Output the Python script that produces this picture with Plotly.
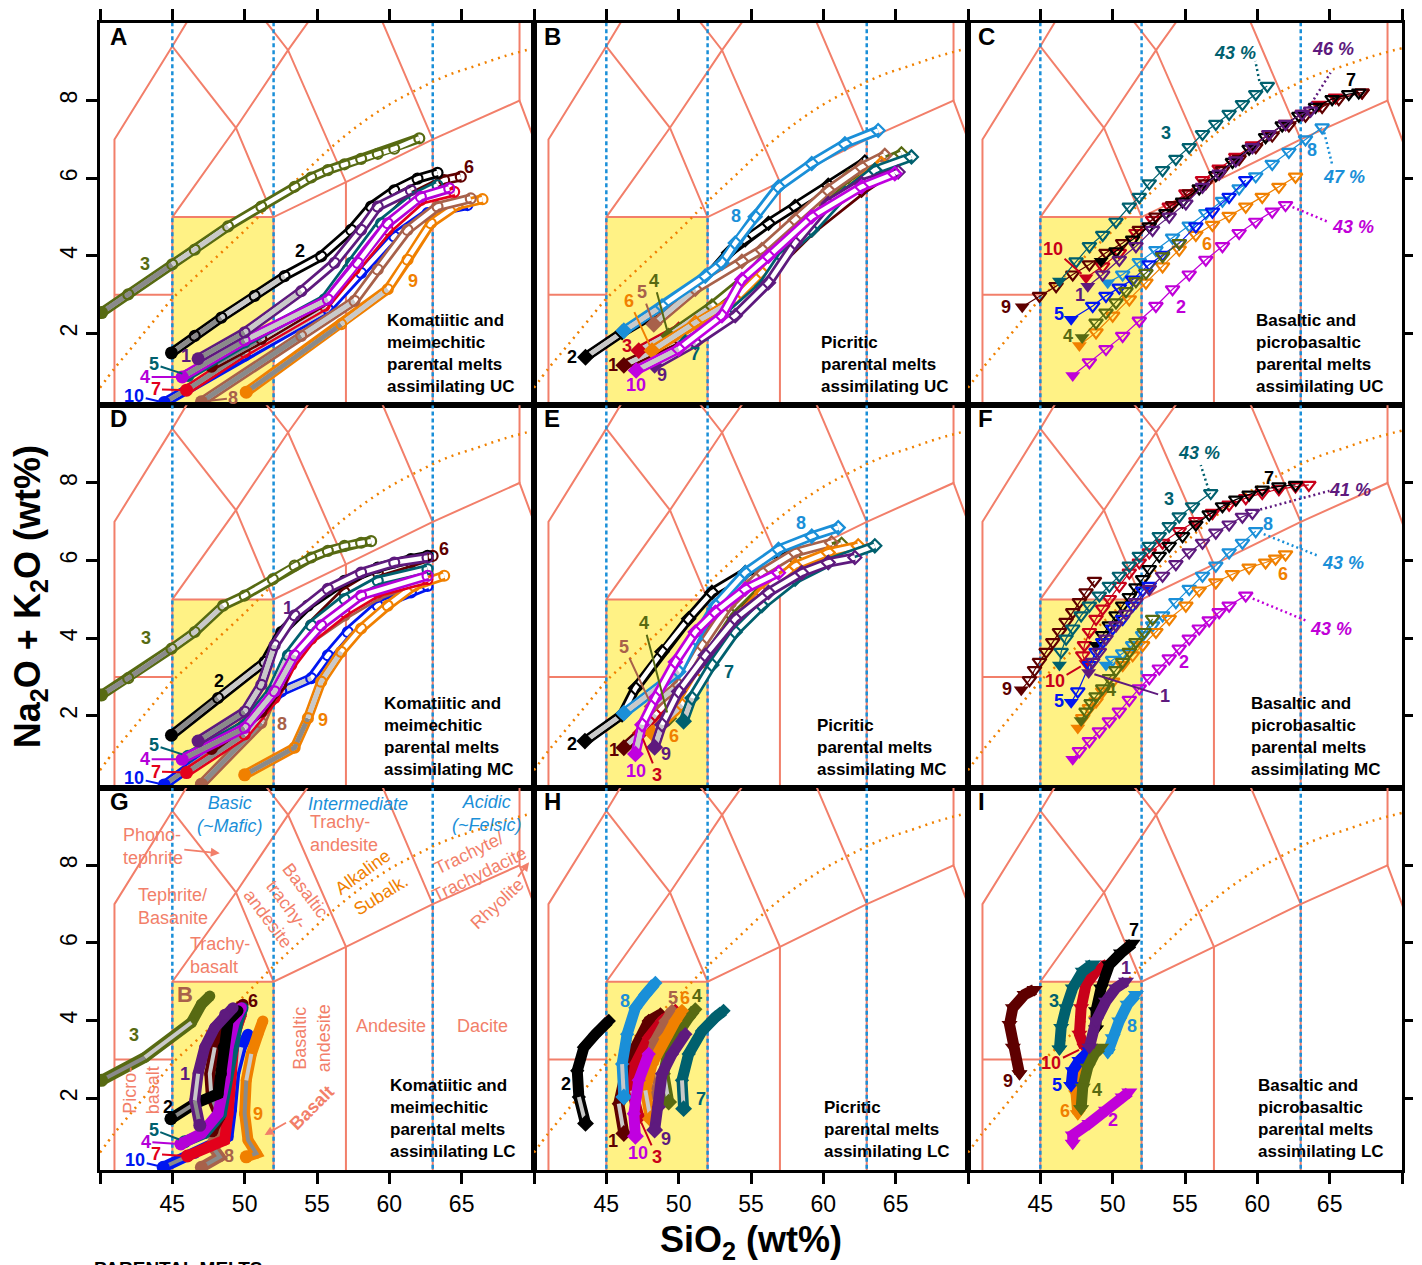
import plotly.graph_objects as go
from plotly.subplots import make_subplots

FONT = "Liberation Sans, Arial, Helvetica, sans-serif"

# ------------------------------------------------------------------ TAS geometry
TAS_POLYLINES = [
    [(41, 0), (41, 7), (45, 9.4), (48.4, 11.5)],
    [(41, 3), (45, 3)],
    [(45, 0), (45, 5), (49.4, 7.3), (53, 9.3), (57.6, 11.7)],
    [(45, 9.4), (49.4, 7.3)],
    [(45, 5), (52, 5), (57, 5.9), (63, 7), (69, 8), (77, 0)],
    [(52, 0), (52, 5), (49.4, 7.3)],
    [(57, 0), (57, 5.9), (53, 9.3), (48.4, 11.5)],
    [(63, 0), (63, 7), (57.6, 11.7)],
    [(69, 8), (69, 13)],
]
BASALT_FIELD = (45, 52, 0, 5)
SILICA_CLASS_LINES = [45, 52, 63]
ALK_SUBALK_SIO2 = [40.0, 41.0, 42.0, 43.0, 44.0, 45.0, 46.0, 47.0, 48.0, 50.0,
                   52.0, 54.0, 56.0, 58.0, 60.0, 62.0, 64.0, 66.0, 68.0, 70.0]
ALK_SUBALK_TOTAL = [0.6, 1.1, 1.55, 2.0, 2.45, 2.9, 3.25, 3.6, 3.95, 4.65,
                    5.4, 6.1, 6.8, 7.4, 7.9, 8.3, 8.65, 8.9, 9.15, 9.35]
X_TICKS = [45, 50, 55, 60, 65]
X_EDGE_TICKS = [40, 70]
Y_TICKS = [2, 4, 6, 8]

# ------------------------------------------------------------------ series data
# SiO2 (wt%) and Na2O+K2O (wt%) along each model path, series 1..10
A_SIO2 = {
    1: [46.78, 50.00, 53.91, 56.21, 58.05, 59.20, 61.49],
    2: [44.94, 46.55, 48.39, 50.69, 52.76, 55.29, 57.36, 58.74, 60.34, 61.95, 63.33],
    3: [40.11, 41.95, 44.99, 46.55, 48.85, 51.15, 53.45, 54.60, 55.75, 56.90, 58.05, 59.20, 60.34, 62.07],
    4: [45.68, 50.00, 55.75, 57.82, 59.89, 62.18, 64.14],
    5: [46.09, 50.00, 55.52, 57.36, 59.43, 61.72, 63.33],
    6: [47.70, 51.15, 55.75, 57.13, 59.20, 61.49, 63.79, 64.94],
    7: [45.98, 50.00, 55.52, 57.59, 59.89, 62.18, 64.48],
    8: [47.01, 53.91, 57.59, 59.20, 61.26, 63.33, 65.63],
    9: [50.11, 56.67, 59.89, 61.26, 62.87, 64.71, 66.44],
    10: [44.44, 50.00, 55.75, 58.05, 60.34, 62.64, 65.40],
}
A_ALK = {
    1: [1.35, 2.03, 3.09, 3.82, 4.67, 5.27, 5.69],
    2: [1.50, 1.94, 2.41, 2.97, 3.48, 3.99, 4.67, 5.27, 5.69, 5.99, 6.14],
    3: [2.54, 3.01, 3.78, 4.16, 4.76, 5.27, 5.78, 6.02, 6.21, 6.36, 6.50, 6.63, 6.76, 7.03],
    4: [0.88, 1.82, 2.88, 3.82, 4.84, 5.52, 5.74],
    5: [0.92, 1.77, 2.88, 3.82, 4.84, 5.52, 5.82],
    6: [1.16, 1.86, 2.88, 3.65, 4.67, 5.52, 5.95, 6.04],
    7: [0.54, 1.52, 2.71, 3.65, 4.67, 5.44, 5.65],
    8: [0.24, 1.94, 2.84, 3.65, 4.67, 5.27, 5.48],
    9: [0.49, 2.24, 3.14, 3.90, 4.84, 5.31, 5.46],
    10: [0.22, 1.43, 2.63, 3.56, 4.50, 5.10, 5.31],
}
B_SIO2 = {
    1: [46.21, 50.00, 53.45, 56.21, 59.20, 62.64, 64.71],
    2: [43.56, 46.09, 48.85, 51.84, 53.45, 54.60, 56.21, 58.05, 60.34, 62.87],
    3: [47.24, 50.00, 52.53, 55.29, 57.59, 59.89, 62.64, 64.25],
    4: [49.31, 52.30, 54.83, 56.67, 59.43, 61.72, 65.40],
    5: [48.28, 51.15, 54.37, 55.75, 58.05, 60.34, 62.64, 64.25],
    6: [48.16, 51.15, 53.91, 55.75, 58.51, 61.49, 64.02],
    7: [50.46, 53.45, 55.75, 57.13, 59.20, 61.49, 63.56, 66.09],
    8: [46.21, 48.85, 51.84, 52.99, 53.91, 55.29, 56.90, 59.20, 61.49, 63.79],
    9: [48.34, 51.15, 53.91, 56.21, 58.05, 60.34, 62.64, 65.17],
    10: [47.06, 50.00, 52.99, 54.37, 56.21, 59.20, 62.64, 64.94],
}
B_ALK = {
    1: [1.18, 1.86, 2.63, 3.56, 4.67, 5.69, 6.21],
    2: [1.39, 2.03, 2.63, 3.39, 4.08, 4.42, 4.84, 5.27, 5.82, 6.42],
    3: [1.56, 2.11, 2.63, 3.31, 4.16, 5.10, 5.87, 6.29],
    4: [1.94, 2.71, 3.48, 4.25, 5.27, 6.04, 6.63],
    5: [2.24, 3.14, 3.86, 4.16, 4.93, 5.69, 6.29, 6.59],
    6: [1.56, 2.28, 2.88, 3.56, 4.67, 5.61, 6.38],
    7: [1.77, 2.46, 3.22, 3.99, 4.67, 5.61, 6.21, 6.55],
    8: [2.07, 2.71, 3.48, 3.82, 4.33, 5.01, 5.78, 6.38, 6.89, 7.23],
    9: [1.18, 1.77, 2.46, 3.31, 4.33, 5.35, 5.87, 6.16],
    10: [1.05, 1.60, 2.46, 3.39, 3.99, 5.01, 5.78, 6.12],
}
C_SIO2 = {
    1: [48.28, 49.31, 50.46, 51.61, 52.76, 53.91, 55.06, 56.21, 57.36, 58.51, 59.66, 60.80, 61.95, 63.10, 63.68],
    2: [47.24, 48.39, 49.54, 50.69, 51.84, 52.99, 54.14, 55.29, 56.44, 57.59, 58.74, 59.89, 61.03, 61.95],
    3: [46.32, 47.47, 48.39, 49.31, 50.23, 51.15, 51.84, 52.53, 53.45, 54.37, 55.29, 56.21, 57.13, 58.05, 58.97, 59.89, 60.69],
    4: [47.89, 48.85, 49.54, 50.23, 50.92, 51.61, 52.30, 53.45, 54.60],
    5: [47.13, 48.62, 49.54, 50.46, 51.38, 52.53, 53.45, 54.60, 55.75, 56.90, 58.05, 59.20],
    6: [47.70, 48.85, 50.00, 51.15, 52.30, 53.45, 54.60, 55.75, 56.90, 58.05, 59.20, 60.34, 61.49, 62.64],
    7: [49.20, 50.23, 51.38, 52.53, 53.68, 54.83, 55.98, 57.13, 58.28, 59.43, 60.57, 61.72, 62.87, 64.02, 65.17, 66.32, 67.01],
    8: [49.66, 50.69, 51.84, 52.99, 54.14, 55.29, 56.44, 57.59, 58.74, 59.89, 61.03, 62.18, 63.33, 64.48],
    9: [43.75, 44.94, 46.09, 47.24, 48.39, 49.54, 50.69, 51.84, 52.99, 54.14, 55.29, 56.44, 57.59, 58.74, 59.89, 61.03, 62.18, 63.33, 64.48, 65.63, 67.24],
    10: [48.16, 49.31, 50.46, 51.61, 52.76, 53.91, 55.06, 56.21, 57.36, 58.51, 59.66, 60.80, 61.95, 63.10, 64.25, 65.40, 67.24],
}
C_ALK = {
    1: [3.22, 3.52, 3.90, 4.25, 4.67, 5.01, 5.35, 5.78, 6.12, 6.46, 6.80, 7.14, 7.40, 7.66, 7.74],
    2: [0.92, 1.26, 1.60, 1.94, 2.33, 2.71, 3.14, 3.52, 3.90, 4.25, 4.59, 4.88, 5.14, 5.31],
    3: [3.35, 3.86, 4.25, 4.54, 4.88, 5.27, 5.52, 5.87, 6.21, 6.50, 6.80, 7.14, 7.40, 7.66, 7.91, 8.17, 8.38],
    4: [1.90, 2.28, 2.54, 2.80, 3.09, 3.35, 3.56, 3.99, 4.33],
    5: [2.37, 2.71, 2.97, 3.18, 3.39, 3.78, 4.03, 4.33, 4.76, 5.14, 5.52, 5.95],
    6: [1.69, 2.03, 2.46, 2.88, 3.31, 3.73, 4.16, 4.54, 4.80, 5.03, 5.27, 5.52, 5.78, 6.04],
    7: [3.86, 4.12, 4.42, 4.76, 5.10, 5.40, 5.74, 6.08, 6.42, 6.76, 7.06, 7.36, 7.61, 7.84, 8.04, 8.17, 8.21],
    8: [3.31, 3.52, 3.84, 4.15, 4.47, 4.78, 5.10, 5.42, 5.74, 6.05, 6.37, 6.68, 7.00, 7.31],
    9: [2.69, 2.97, 3.22, 3.52, 3.78, 4.08, 4.33, 4.67, 5.01, 5.31, 5.61, 5.87, 6.21, 6.50, 6.80, 7.10, 7.36, 7.61, 7.84, 8.04, 8.21],
    10: [3.44, 3.73, 4.08, 4.59, 4.93, 5.27, 5.61, 5.95, 6.25, 6.55, 6.85, 7.14, 7.40, 7.66, 7.89, 8.08, 8.21],
}
D_SIO2 = {
    1: [46.78, 50.00, 51.15, 52.07, 53.45, 55.75, 58.05, 60.34, 62.64],
    2: [44.94, 48.16, 51.38, 52.53, 54.37, 56.90, 59.20, 61.49, 62.64],
    3: [40.11, 41.95, 44.94, 46.55, 48.51, 50.00, 51.95, 53.45, 54.60, 55.75, 56.90, 58.05, 58.74],
    4: [45.68, 50.00, 52.07, 53.45, 55.29, 58.05, 62.64],
    5: [46.09, 50.00, 51.84, 52.99, 54.60, 56.90, 59.20, 62.64],
    6: [47.70, 51.15, 52.53, 53.22, 54.60, 56.90, 59.20, 61.49, 62.99],
    7: [45.98, 50.00, 52.07, 53.22, 54.60, 56.90, 59.20, 62.64],
    8: [47.01, 51.15, 52.07, 53.22, 54.60, 56.90, 59.20, 62.64],
    9: [50.00, 53.45, 54.37, 55.29, 56.67, 58.05, 59.89, 61.72, 63.79],
    10: [44.44, 50.00, 52.53, 54.60, 55.75, 57.13, 59.20, 61.49, 62.64],
}
D_ALK = {
    1: [1.35, 2.11, 2.80, 3.82, 4.59, 5.27, 5.69, 5.95, 6.08],
    2: [1.50, 2.46, 3.39, 4.16, 4.84, 5.48, 5.82, 6.04, 6.12],
    3: [2.54, 2.97, 3.73, 4.16, 4.84, 5.10, 5.52, 5.87, 6.08, 6.25, 6.38, 6.46, 6.50],
    4: [0.88, 1.69, 2.63, 3.56, 4.33, 5.10, 5.61],
    5: [0.96, 1.77, 2.63, 3.56, 4.33, 5.01, 5.48, 5.78],
    6: [1.16, 2.11, 2.80, 3.56, 4.33, 5.18, 5.69, 5.95, 6.12],
    7: [0.54, 1.52, 2.46, 3.31, 3.99, 4.67, 5.18, 5.52],
    8: [0.24, 1.82, 2.63, 3.48, 3.99, 4.59, 5.10, 5.61],
    9: [0.48, 1.18, 1.94, 2.88, 3.65, 4.25, 4.84, 5.35, 5.61],
    10: [0.22, 1.69, 2.63, 2.97, 3.56, 4.16, 4.84, 5.18, 5.35],
}
E_SIO2 = {
    1: [46.21, 47.47, 48.85, 50.23, 52.07, 54.37, 57.13, 60.34],
    2: [43.52, 46.09, 47.01, 48.85, 50.69, 52.30, 54.60, 57.59, 58.97],
    3: [47.36, 48.39, 50.00, 51.61, 53.45, 55.75, 58.05, 61.49],
    4: [49.31, 50.46, 51.61, 53.45, 55.75, 58.05, 61.26],
    5: [48.16, 50.00, 51.61, 53.45, 55.75, 58.05, 60.57],
    6: [48.16, 50.23, 51.61, 53.45, 55.75, 58.05, 60.34, 62.41],
    7: [50.34, 50.92, 52.30, 53.91, 55.75, 58.05, 60.34, 63.56],
    8: [46.21, 50.00, 51.15, 52.53, 54.60, 56.90, 59.20, 61.03],
    9: [48.34, 48.85, 50.00, 51.84, 53.91, 56.21, 58.51, 60.34, 62.18],
    10: [47.01, 47.47, 48.39, 49.77, 51.15, 52.53, 54.60, 56.90],
}
E_ALK = {
    1: [1.18, 1.60, 2.46, 3.31, 4.16, 5.01, 5.69, 6.12],
    2: [1.35, 2.03, 2.71, 3.65, 4.50, 5.18, 5.69, 6.12, 6.21],
    3: [1.56, 2.03, 2.63, 3.48, 4.33, 5.10, 5.69, 6.12],
    4: [1.94, 2.80, 3.65, 4.67, 5.52, 6.04, 6.42],
    5: [2.24, 2.80, 3.82, 4.84, 5.69, 6.21, 6.46],
    6: [1.56, 2.28, 3.14, 4.25, 5.18, 5.87, 6.21, 6.38],
    7: [1.86, 2.46, 3.31, 4.16, 4.84, 5.52, 5.95, 6.38],
    8: [2.07, 3.14, 3.99, 4.84, 5.69, 6.29, 6.63, 6.85],
    9: [1.19, 1.77, 2.63, 3.56, 4.50, 5.18, 5.69, 5.95, 6.08],
    10: [1.02, 1.77, 2.46, 3.39, 4.16, 4.67, 5.27, 5.69],
}
F_SIO2 = {
    1: [48.34, 48.62, 49.08, 49.54, 50.23, 50.92, 51.61, 52.53, 53.45, 54.37, 55.29, 56.21, 57.13, 58.05, 58.97, 59.66],
    2: [47.24, 47.70, 48.39, 49.08, 49.77, 50.46, 51.15, 51.84, 52.53, 53.22, 53.91, 54.60, 55.29, 55.98, 56.67, 57.36, 58.05, 59.20],
    3: [46.32, 46.44, 46.78, 47.24, 47.82, 48.39, 49.08, 49.77, 50.46, 51.15, 51.84, 52.53, 53.22, 53.91, 54.60, 55.52, 56.78],
    4: [47.82, 48.16, 48.51, 48.85, 49.31, 49.77, 50.23, 50.69, 51.15, 51.61, 52.18, 52.76],
    5: [47.13, 47.59, 48.39, 48.85, 49.31, 50.00, 50.69, 51.38, 52.07, 52.53],
    6: [47.59, 47.93, 48.39, 48.85, 49.31, 50.00, 50.69, 51.38, 52.07, 52.99, 53.91, 55.06, 55.98, 57.13, 58.28, 59.43, 60.57, 61.26, 61.95],
    7: [48.85, 49.31, 49.77, 50.23, 50.69, 51.15, 51.61, 52.07, 52.53, 53.22, 53.91, 54.83, 55.75, 56.67, 57.59, 58.51, 59.43, 60.34, 61.49, 62.64],
    8: [49.54, 50.00, 50.69, 51.38, 52.07, 52.76, 53.45, 54.37, 55.29, 56.21, 57.13, 58.05, 58.97, 59.89],
    9: [43.68, 44.25, 44.60, 44.94, 45.40, 45.86, 46.32, 46.78, 47.24, 47.70, 48.16, 48.74],
    10: [48.16, 47.93, 48.05, 48.39, 48.85, 49.31, 49.77, 50.46, 51.15, 51.84, 52.53, 53.45, 54.60, 55.75, 56.90, 58.05, 59.20, 60.34, 61.49, 62.64, 63.56],
}
F_ALK = {
    1: [3.12, 3.39, 3.65, 3.99, 4.33, 4.63, 4.93, 5.27, 5.61, 5.91, 6.21, 6.46, 6.72, 6.93, 7.13, 7.23],
    2: [0.88, 1.09, 1.35, 1.60, 1.86, 2.11, 2.41, 2.71, 2.97, 3.22, 3.48, 3.73, 3.99, 4.25, 4.46, 4.67, 4.84, 5.10],
    3: [3.31, 3.65, 3.99, 4.25, 4.59, 4.84, 5.10, 5.35, 5.61, 5.87, 6.12, 6.38, 6.63, 6.89, 7.14, 7.40, 7.74],
    4: [1.88, 2.11, 2.33, 2.50, 2.71, 2.97, 3.18, 3.39, 3.65, 3.90, 4.16, 4.50],
    5: [2.35, 2.63, 3.31, 3.65, 3.90, 4.25, 4.50, 4.84, 5.23, 5.35],
    6: [1.69, 1.94, 2.20, 2.37, 2.63, 2.88, 3.31, 3.56, 3.82, 4.16, 4.50, 4.84, 5.23, 5.44, 5.65, 5.82, 5.95, 6.05, 6.16],
    7: [3.82, 4.08, 4.33, 4.59, 4.84, 5.06, 5.31, 5.52, 5.78, 6.12, 6.38, 6.63, 6.93, 7.19, 7.40, 7.57, 7.70, 7.83, 7.91, 7.95],
    8: [3.31, 3.44, 3.61, 3.82, 4.08, 4.33, 4.59, 4.93, 5.27, 5.61, 5.87, 6.21, 6.46, 6.76],
    9: [2.67, 2.92, 3.18, 3.39, 3.65, 3.90, 4.16, 4.42, 4.67, 4.93, 5.18, 5.48],
    10: [3.35, 3.56, 3.82, 4.16, 4.50, 4.76, 5.01, 5.35, 5.69, 5.95, 6.21, 6.46, 6.76, 7.02, 7.23, 7.44, 7.61, 7.74, 7.84, 7.91, 7.95],
}
G_SIO2 = {
    1: [46.90, 46.55, 46.78, 47.24, 47.93, 48.62, 49.20],
    2: [44.90, 46.55, 48.16, 48.39, 48.51, 48.85, 49.54],
    3: [40.11, 43.10, 46.32, 47.01, 47.59],
    4: [45.59, 47.01, 48.16, 48.62, 48.85, 49.31, 49.77],
    5: [45.86, 47.24, 48.39, 48.74, 49.08, 49.54, 49.89],
    6: [47.75, 48.28, 47.70, 47.59, 47.93, 48.51, 49.31, 49.89],
    7: [46.05, 47.47, 48.62, 48.85, 49.08, 49.31, 49.77],
    8: [47.01, 48.28, 47.70, 48.16, 48.62, 48.85, 49.31, 49.77],
    9: [50.11, 50.80, 50.23, 50.00, 50.11, 50.46, 50.92, 51.26],
    10: [44.37, 46.55, 48.85, 49.08, 49.31, 49.77, 50.23],
}
G_ALK = {
    1: [1.30, 1.94, 2.63, 3.31, 3.82, 4.16, 4.33],
    2: [1.47, 1.86, 2.11, 2.63, 3.31, 3.99, 4.25],
    3: [2.46, 3.05, 3.95, 4.42, 4.63],
    4: [0.82, 1.09, 1.60, 2.46, 3.31, 3.99, 4.33],
    5: [0.88, 1.09, 1.60, 2.46, 3.31, 3.99, 4.33],
    6: [1.16, 1.52, 2.03, 2.63, 3.31, 3.90, 4.25, 4.42],
    7: [0.51, 0.75, 0.92, 1.60, 2.63, 3.65, 4.16],
    8: [0.22, 0.49, 0.79, 1.18, 2.03, 2.88, 3.65, 4.16],
    9: [0.49, 0.58, 0.92, 1.60, 2.46, 3.14, 3.65, 3.99],
    10: [0.22, 0.58, 1.01, 1.69, 2.63, 3.31, 3.65],
}
H_SIO2 = {
    1: [46.21, 45.86, 46.32, 47.01, 47.93, 48.74],
    2: [43.56, 43.10, 42.99, 43.45, 44.25, 45.17],
    3: [47.24, 46.78, 47.01, 47.93, 48.85, 49.77],
    4: [49.31, 48.97, 49.31, 50.00, 50.69, 51.15],
    5: [48.16, 47.93, 48.39, 49.08, 49.54],
    6: [48.05, 47.70, 48.16, 49.08, 49.77, 50.23],
    7: [50.34, 50.23, 50.69, 51.61, 52.53, 53.10],
    8: [46.21, 46.09, 46.44, 47.01, 47.70, 48.39],
    9: [48.34, 48.62, 48.85, 49.54, 50.46],
    10: [47.01, 46.90, 47.24, 47.93],
}
H_ALK = {
    1: [1.09, 1.86, 2.63, 3.31, 3.99, 4.16],
    2: [1.35, 2.03, 2.71, 3.31, 3.65, 3.99],
    3: [1.52, 2.20, 2.88, 3.56, 3.99, 4.25],
    4: [1.90, 2.63, 3.31, 3.73, 4.08, 4.29],
    5: [2.16, 2.88, 3.48, 3.99, 4.25],
    6: [1.47, 2.20, 2.88, 3.56, 3.99, 4.25],
    7: [1.73, 2.46, 3.14, 3.73, 4.08, 4.25],
    8: [2.03, 2.88, 3.65, 4.33, 4.67, 4.97],
    9: [1.18, 1.77, 2.63, 3.14, 3.65],
    10: [1.02, 1.60, 2.46, 3.14],
}
I_SIO2 = {
    1: [48.39, 48.85, 49.54, 50.23, 50.92],
    2: [47.24, 47.24, 48.39, 49.54, 50.69, 51.15],
    3: [46.32, 46.44, 46.78, 47.24, 47.93, 48.62],
    4: [47.82, 47.93, 48.28, 48.74, 49.20],
    5: [47.13, 47.24, 47.70, 48.39],
    6: [47.59, 47.47, 47.70, 48.28],
    7: [48.85, 48.85, 49.20, 49.77, 50.57, 51.38],
    8: [49.66, 50.00, 50.46, 51.03, 51.61],
    9: [43.56, 43.10, 42.87, 43.10, 43.91, 44.60],
    10: [48.05, 47.70, 47.82, 48.16, 48.85, 49.66],
}
I_ALK = {
    1: [3.31, 3.99, 4.50, 4.84, 5.01],
    2: [0.84, 1.05, 1.35, 1.69, 2.03, 2.16],
    3: [3.27, 3.82, 4.33, 4.84, 5.27, 5.46],
    4: [1.73, 2.28, 2.80, 3.14, 3.31],
    5: [2.33, 2.71, 2.97, 3.22],
    6: [1.60, 2.11, 2.54, 2.88],
    7: [3.78, 4.25, 4.84, 5.44, 5.74, 5.99],
    8: [3.18, 3.56, 3.99, 4.42, 4.67],
    9: [2.63, 3.31, 3.90, 4.33, 4.67, 4.80],
    10: [3.31, 3.65, 4.33, 4.93, 5.27, 5.46],
}

# ------------------------------------------------------------------ styles
SALMON = '#f27f6a'
SKY = '#1a8fd8'
ORANGE = '#f08000'
YELLOW = '#fff285'
GREY_DARK = '#8a8a8a'
GREY_LIGHT = '#c9c9c9'
KOM_COLORS = {1: '#5e1a7e', 2: '#000000', 3: '#576a12', 4: '#b400d8', 5: '#00606e',
              6: '#5e0000', 7: '#e3001b', 8: '#a8614a', 9: '#f08000', 10: '#0016f0'}
PIC_COLORS = {1: '#5e0000', 2: '#000000', 3: '#c8001a', 4: '#576a12', 5: '#a8614a',
              6: '#f08000', 7: '#00606e', 8: '#1a8fd8', 9: '#5e1a7e', 10: '#c000e0'}
BAS_COLORS = {1: '#5e1a7e', 2: '#c000d8', 3: '#00606e', 4: '#576a12', 5: '#0016f0',
              6: '#f08000', 7: '#000000', 8: '#1a8fd8', 9: '#5e0000', 10: '#c8001a'}

# grey (fractionation-stage) overlays: (end index of dark grey, end index of light grey)
A_GREY = {1: (1, 2), 2: (2, 4), 3: (2, 4), 4: (1, 2), 5: (1, 2), 6: (1, 2), 7: (1, 2), 8: (1, 2), 9: (1, 2), 10: (1, 2)}
B_GREY = {1: (0, 1), 2: (0, 1), 3: (0, 2), 4: (0, 1), 5: (0, 1), 6: (0, 2), 7: (0, 1), 8: (0, 1), 9: (0, 1), 10: (0, 1)}
D_GREY = {1: (1, 3), 2: (1, 2), 3: (2, 4), 4: (1, 3), 5: (1, 3), 6: (1, 3), 7: (1, 3), 8: (1, 3), 9: (2, 4), 10: (1, 3)}
E_GREY = {s: (0, 1) for s in range(1, 11)}
G_GREY = {1: (1, 2), 2: (1, 1), 3: (1, 2), 4: (0, 0), 5: (0, 0), 6: (2, 4), 7: (0, 0), 8: (2, 2), 9: (4, 5), 10: (3, 5)}
H_GREY = {1: (0, 1), 2: (0, 1), 3: (0, 1), 4: (0, 1), 5: (0, 1), 6: (0, 1), 7: (0, 1), 8: (0, 1), 9: (0, 0), 10: (0, 0)}
NO_GREY = {s: (0, 0) for s in range(1, 11)}

# number labels: series -> (anchor point index, dx px, dy px (down), leader line)
A_LABELS = {1: (0, -12, -3, False), 2: (4, 15, -25, False), 3: (1, 17, -30, False),
            4: (0, -37, 0, True), 5: (0, -34, -11, True), 6: (-1, 8, -10, False),
            7: (0, -31, -1, True), 8: (0, 32, -4, True), 9: (2, 25, -8, False), 10: (0, -30, -7, True)}
B_LABELS = {1: (0, -11, 0, False), 2: (0, -14, 0, False), 3: (0, -12, -5, False),
            4: (0, -15, -55, True), 5: (0, -12, -32, True), 6: (0, -23, -50, True),
            7: (0, 10, 12, False), 8: (4, 1, -27, False), 9: (0, 7, 10, False), 10: (0, 0, 15, False)}
C_LABELS = {1: (0, -8, 9, False), 2: (6, 8, 18, False), 3: (8, 3, -37, False),
            4: (0, -14, -1, False), 5: (0, -12, -5, False), 6: (7, 11, 9, False),
            7: (-1, -8, -12, False), 8: (-1, -10, 23, False), 9: (0, -16, 0, False), 10: (0, -33, -29, True)}
D_LABELS = {1: (4, -7, -7, False), 2: (1, 1, -17, False), 3: (2, -25, -11, False),
            4: (0, -37, 0, True), 5: (0, -34, -11, True), 6: (-1, 11, -7, False),
            7: (0, -31, -1, True), 8: (1, 21, 1, False), 9: (2, 15, 2, False), 10: (0, -30, -7, True)}
E_LABELS = {1: (0, -10, 2, False), 2: (0, -13, 3, False), 3: (0, 17, 42, True),
            4: (0, -25, -95, True), 5: (0, -28, -60, True), 6: (0, 22, 3, False),
            7: (2, 17, 7, False), 8: (6, -11, -13, False), 9: (0, 11, 7, False), 10: (0, 1, 17, False)}
F_LABELS = {1: (0, 76, 24, True), 2: (11, 5, 13, False), 3: (13, 0, -27, False),
            4: (5, 2, 12, False), 5: (0, -12, -1, False), 6: (-1, -3, 20, False),
            7: (17, 7, -12, False), 8: (-1, 12, -7, False), 9: (0, -14, -1, False), 10: (0, -31, 18, True)}
G_LABELS = {1: (2, -13, 0, False), 2: (0, -3, -12, False), 3: (1, -11, -22, False),
            4: (0, -35, -2, True), 5: (0, -31, -12, True), 6: (-1, 10, -3, False),
            7: (0, -32, -2, True), 8: (0, 28, -11, False), 9: (3, 13, 0, False), 10: (0, -28, -7, True)}
H_LABELS = {1: (0, -11, 7, False), 2: (1, -13, -13, False), 3: (0, 18, 40, True),
            4: (-1, 2, -13, False), 5: (-1, 1, -13, False), 6: (-1, 3, -13, False),
            7: (0, 17, -10, False), 8: (3, -10, -7, False), 9: (0, 11, 9, False), 10: (0, 3, 17, False)}
I_LABELS = {1: (-1, 0, -13, False), 2: (3, 7, 10, False), 3: (2, -12, -7, False),
            4: (1, 14, 3, False), 5: (0, -14, 0, False), 6: (0, -13, -3, False),
            7: (-1, 1, -13, False), 8: (2, 13, 5, False), 9: (0, -12, 7, False), 10: (0, -33, 16, True)}

# percentage labels at path ends: series -> (text, leader start px, leader end px, label px)
C_PCT = {3: ('43 %', (-8, -5), (-12, -25), (-32, -33)), 1: ('46 %', (-2, -3), (20, -38), (22, -62)),
         8: ('47 %', (2, 5), (10, 37), (22, 50)), 2: ('43 %', (7, 2), (43, 17), (67, 22))}
F_PCT = {3: ('43 %', (-2, -3), (-10, -28), (-12, -40)), 1: ('41 %', (3, -2), (77, -22), (98, -23)),
         8: ('43 %', (8, 3), (63, 25), (87, 32)), 2: ('43 %', (7, 3), (60, 25), (85, 33))}

TXT = {
    'KOM': 'Komatiitic and<br>meimechitic<br>parental melts<br>assimilating {}',
    'PIC': 'Picritic<br>parental melts<br>assimilating {}',
    'BAS': 'Basaltic and<br>picrobasaltic<br>parental melts<br>assimilating {}',
}
REV = list(range(10, 0, -1))
FWD = list(range(1, 11))

PANELS = [
    dict(letter='A', r=1, c=1, xs=A_SIO2, ys=A_ALK, colors=KOM_COLORS, sym='circle', style='tube',
         grey=A_GREY, labels=A_LABELS, pct=None, grp='KOM', crust='UC', order=REV, tx=0.657),
    dict(letter='B', r=1, c=2, xs=B_SIO2, ys=B_ALK, colors=PIC_COLORS, sym='diamond', style='tube',
         grey=B_GREY, labels=B_LABELS, pct=None, grp='PIC', crust='UC', order=FWD, tx=0.657),
    dict(letter='C', r=1, c=3, xs=C_SIO2, ys=C_ALK, colors=BAS_COLORS, sym='triangle-down', style='tri',
         grey=NO_GREY, labels=C_LABELS, pct=C_PCT, grp='BAS', crust='UC', order=REV, tx=0.659),
    dict(letter='D', r=2, c=1, xs=D_SIO2, ys=D_ALK, colors=KOM_COLORS, sym='circle', style='tube',
         grey=D_GREY, labels=D_LABELS, pct=None, grp='KOM', crust='MC', order=REV, tx=0.649),
    dict(letter='E', r=2, c=2, xs=E_SIO2, ys=E_ALK, colors=PIC_COLORS, sym='diamond', style='tube',
         grey=E_GREY, labels=E_LABELS, pct=None, grp='PIC', crust='MC', order=FWD, tx=0.648),
    dict(letter='F', r=2, c=3, xs=F_SIO2, ys=F_ALK, colors=BAS_COLORS, sym='triangle-down', style='tri',
         grey=NO_GREY, labels=F_LABELS, pct=F_PCT, grp='BAS', crust='MC', order=REV, tx=0.648),
    dict(letter='G', r=3, c=1, xs=G_SIO2, ys=G_ALK, colors=KOM_COLORS, sym='circle', style='thick',
         grey=G_GREY, labels=G_LABELS, pct=None, grp='KOM', crust='LC', order=REV, tx=0.664),
    dict(letter='H', r=3, c=2, xs=H_SIO2, ys=H_ALK, colors=PIC_COLORS, sym='diamond', style='thick',
         grey=H_GREY, labels=H_LABELS, pct=None, grp='PIC', crust='LC', order=FWD, tx=0.664),
    dict(letter='I', r=3, c=3, xs=I_SIO2, ys=I_ALK, colors=BAS_COLORS, sym='triangle-down', style='thick',
         grey=NO_GREY, labels=I_LABELS, pct=None, grp='BAS', crust='LC', order=REV, tx=0.664),
]

# region names of the TAS diagram (shown in panel G)
# text, SiO2, alkali, angle, colour, size, xanchor
G_REGION_TEXT = [
    ('<i>Basic<br>(~Mafic)</i>', 48.97, 9.32, 0, SKY, 18, 'center'),
    ('<i>Intermediate</i>', 57.82, 9.57, 0, SKY, 18, 'center'),
    ('<i>Acidic<br>(~Felsic)</i>', 66.78, 9.33, 0, SKY, 18, 'center'),
    ('Tephrite/<br>Basanite', 42.46, 6.95, 0, SALMON, 18, 'left'),
    ('Trachy-<br>basalt', 46.05, 5.67, 0, SALMON, 18, 'left'),
    ('Trachy-<br>andesite', 54.37, 8.81, 0, SALMON, 18, 'left'),
    ('Basaltic<br>trachy-<br>andesite', 52.9, 7.0, 53, SALMON, 18, 'center'),
    ('Alkaline', 58.16, 7.84, -36, ORANGE, 18, 'center'),
    ('Subalk.', 59.43, 7.23, -32, ORANGE, 18, 'center'),
    ('Trachyte/<br>Trachydacite', 65.86, 8.04, -26, SALMON, 18, 'center'),
    ('Basaltic<br>andesite', 54.6, 3.55, -90, SALMON, 18, 'center'),
    ('Andesite', 60.11, 3.86, 0, SALMON, 18, 'center'),
    ('Dacite', 66.44, 3.86, 0, SALMON, 18, 'center'),
    ('Picro-<br>basalt', 42.83, 2.2, -90, SALMON, 18, 'center'),
    ('<b>B</b>', 45.86, 4.67, 0, '#a8614a', 22, 'center'),
]
# names with an arrow: text, arrow tip (SiO2, alkali), text offset px, angle
G_REGION_ARROWED = [
    ('Phono-<br>tephrite', 48.28, 8.31, -67, -7, 0),
    ('Rhyolite', 69.66, 8.08, -32, 42, -43),
    ('<b>Basalt</b>', 51.38, 1.05, 47, -27, -45),
]


def axis_names(n):
    return ('x' if n == 1 else f'x{n}'), ('y' if n == 1 else f'y{n}')


fig = make_subplots(rows=3, cols=3, horizontal_spacing=0, vertical_spacing=0)


def add(r, c, **kw):
    fig.add_trace(go.Scatter(showlegend=False, hoverinfo='skip', **kw), row=r, col=c)


def draw_series(r, c, x, y, color, sym, style, grey):
    d, l = grey
    if style == 'tube':
        add(r, c, x=x, y=y, mode='lines', line=dict(color=color, width=10))
        add(r, c, x=x, y=y, mode='lines', line=dict(color='white', width=4.5))
        if d > 0:
            add(r, c, x=x[:d + 1], y=y[:d + 1], mode='lines', line=dict(color=GREY_DARK, width=5))
        if l > d:
            add(r, c, x=x[d:l + 1], y=y[d:l + 1], mode='lines', line=dict(color=GREY_LIGHT, width=5))
        add(r, c, x=x[1:], y=y[1:], mode='markers',
            marker=dict(symbol=sym + '-open', size=10, color=color, line=dict(width=2.2)))
    elif style == 'tri':
        add(r, c, x=x, y=y, mode='lines', line=dict(color=color, width=1.2))
        add(r, c, x=x[1:], y=y[1:], mode='markers',
            marker=dict(symbol=sym + '-open', size=12, color=color, line=dict(width=2.2)))
    else:
        msize = 14 if sym == 'triangle-down' else 11
        add(r, c, x=x, y=y, mode='lines+markers', line=dict(color=color, width=11),
            marker=dict(symbol=sym, size=msize, color=color))
        if d > 0:
            add(r, c, x=x[:d + 1], y=y[:d + 1], mode='lines', line=dict(color=GREY_DARK, width=4))
        if l > d:
            add(r, c, x=x[d:l + 1], y=y[d:l + 1], mode='lines', line=dict(color=GREY_LIGHT, width=4))
    add(r, c, x=x[:1], y=y[:1], mode='markers', marker=dict(symbol=sym, size=13, color=color))


tas_x, tas_y = [], []
for poly in TAS_POLYLINES:
    for sx, sy in poly:
        tas_x.append(sx)
        tas_y.append(sy)
    tas_x.append(None)
    tas_y.append(None)
cls_x, cls_y = [], []
for v in SILICA_CLASS_LINES:
    cls_x += [v, v, None]
    cls_y += [0, 10, None]

for p in PANELS:
    r, c = p['r'], p['c']
    n = (r - 1) * 3 + c
    xr, yr = axis_names(n)
    bx0, bx1, by0, by1 = BASALT_FIELD
    fig.add_shape(type='rect', xref=xr, yref=yr, x0=bx0, x1=bx1, y0=by0, y1=by1,
                  fillcolor=YELLOW, line=dict(width=0), layer='below')
    add(r, c, x=tas_x, y=tas_y, mode='lines', line=dict(color=SALMON, width=2))
    add(r, c, x=cls_x, y=cls_y, mode='lines', line=dict(color=SKY, width=2.5, dash='4px,3px'))
    add(r, c, x=ALK_SUBALK_SIO2, y=ALK_SUBALK_TOTAL, mode='lines',
        line=dict(color=ORANGE, width=2.5, dash='2px,5px', shape='spline'))
    for s in p['order']:
        draw_series(r, c, p['xs'][s], p['ys'][s], p['colors'][s], p['sym'], p['style'], p['grey'][s])
    # number labels
    for s, (idx, dx, dy, leader) in p['labels'].items():
        col = p['colors'][s]
        kw = dict(x=p['xs'][s][idx], y=p['ys'][s][idx], xref=xr, yref=yr, text=f'<b>{s}</b>',
                  font=dict(family=FONT, size=18, color=col))
        if leader:
            fig.add_annotation(**kw, showarrow=True, arrowhead=0, arrowwidth=2, arrowcolor=col,
                               ax=dx, ay=dy, standoff=6)
        else:
            fig.add_annotation(**kw, showarrow=False, xshift=dx, yshift=-dy)
    # percentage labels
    if p['pct']:
        for s, (txt, p0, p1, pl) in p['pct'].items():
            col = p['colors'][s]
            ex, ey = p['xs'][s][-1], p['ys'][s][-1]
            fig.add_shape(type='line', xref=xr, yref=yr, xsizemode='pixel', ysizemode='pixel',
                          xanchor=ex, yanchor=ey, x0=p0[0], x1=p1[0], y0=-p0[1], y1=-p1[1],
                          line=dict(color=col, width=2.5, dash='2px,3px'))
            fig.add_annotation(x=ex, y=ey, xref=xr, yref=yr, text=f'<b><i>{txt}</i></b>',
                               showarrow=False, xshift=pl[0], yshift=-pl[1],
                               font=dict(family=FONT, size=18, color=col))
    # panel letter and description
    dx_ref = 'x domain' if n == 1 else f'x{n} domain'
    dy_ref = 'y domain' if n == 1 else f'y{n} domain'
    fig.add_annotation(x=0.018, y=0.965, xref=dx_ref, yref=dy_ref, text=f"<b>{p['letter']}</b>",
                       showarrow=False, xanchor='left', yanchor='middle',
                       font=dict(family=FONT, size=24, color='black'))
    fig.add_annotation(x=p['tx'], y=0.018, xref=dx_ref, yref=dy_ref,
                       text='<b>' + TXT[p['grp']].format(p['crust']) + '</b>',
                       showarrow=False, xanchor='left', yanchor='bottom', align='left',
                       font=dict(family=FONT, size=17, color='black'))

    xa = dict(range=[40, 70], showgrid=False, zeroline=False, showline=True, linecolor='black',
              linewidth=3, mirror=True, ticks='', showticklabels=False, fixedrange=True)
    edge_minor = dict(tickmode='array', tickvals=X_EDGE_TICKS, ticks='outside', ticklen=11,
                      tickwidth=2.5, tickcolor='black', showgrid=False)
    if r == 3:
        xa.update(ticks='outside', ticklen=11, tickwidth=2.5, tickcolor='black', tickvals=X_TICKS,
                  showticklabels=True, minor=edge_minor,
                  tickfont=dict(family=FONT, size=23, color='black'))
    if r == 1:
        xa.update(side='top', ticks='outside', ticklen=11, tickwidth=2.5, tickcolor='black',
                  tickvals=X_TICKS, showticklabels=False, minor=edge_minor)
    ya = dict(range=[0.15, 10], showgrid=False, zeroline=False, showline=True, linecolor='black',
              linewidth=3, mirror=True, ticks='', showticklabels=False, fixedrange=True)
    if c == 1:
        ya.update(ticks='outside', ticklen=11, tickwidth=2.5, tickcolor='black', tickvals=Y_TICKS,
                  showticklabels=True, tickangle=-90,
                  tickfont=dict(family=FONT, size=23, color='black'))
    if c == 3:
        ya.update(side='right', ticks='outside', ticklen=8, tickwidth=2.5, tickcolor='black',
                  tickvals=Y_TICKS, showticklabels=False)
    fig.update_xaxes(xa, row=r, col=c)
    fig.update_yaxes(ya, row=r, col=c)

# TAS region names in panel G
for txt, gx, gy, ang, col, size, xanc in G_REGION_TEXT:
    fig.add_annotation(x=gx, y=gy, xref='x7', yref='y7', text=txt, showarrow=False, textangle=ang,
                       xanchor=xanc, yanchor='middle', align='left' if xanc == 'left' else 'center',
                       font=dict(family=FONT, size=size, color=col))
for txt, gx, gy, ax, ay, ang in G_REGION_ARROWED:
    fig.add_annotation(x=gx, y=gy, xref='x7', yref='y7', text=txt, showarrow=True, arrowhead=2,
                       arrowsize=1, arrowwidth=1.8, arrowcolor=SALMON, ax=ax, ay=ay, textangle=ang,
                       align='left', font=dict(family=FONT, size=18, color=SALMON))

# global axis titles
fig.add_annotation(x=0.5, y=-0.063, xref='paper', yref='paper', text='<b>SiO<sub>2</sub> (wt%)</b>',
                   showarrow=False, xanchor='center', yanchor='middle',
                   font=dict(family=FONT, size=36, color='black'))
fig.add_annotation(x=-0.054, y=0.5, xref='paper', yref='paper',
                   text='<b>Na<sub>2</sub>O + K<sub>2</sub>O (wt%)</b>', textangle=-90,
                   showarrow=False, xanchor='center', yanchor='middle',
                   font=dict(family=FONT, size=36, color='black'))
fig.add_annotation(x=-0.006, y=-0.0753, xref='paper', yref='paper', text='<b>PARENTAL MELTS</b>',
                   showarrow=False, xanchor='left', yanchor='top',
                   font=dict(family=FONT, size=19, color='black'))

fig.update_layout(width=1422, height=1265, margin=dict(l=100, r=17, t=15, b=95),
                  plot_bgcolor='white', paper_bgcolor='white', hovermode=False,
                  font=dict(family=FONT), showlegend=False)

fig.write_html("out.html", config={'displayModeBar': False},
               post_script="document.body.style.margin='0px';document.body.style.padding='0px';"
                           "document.body.style.overflow='hidden';")
